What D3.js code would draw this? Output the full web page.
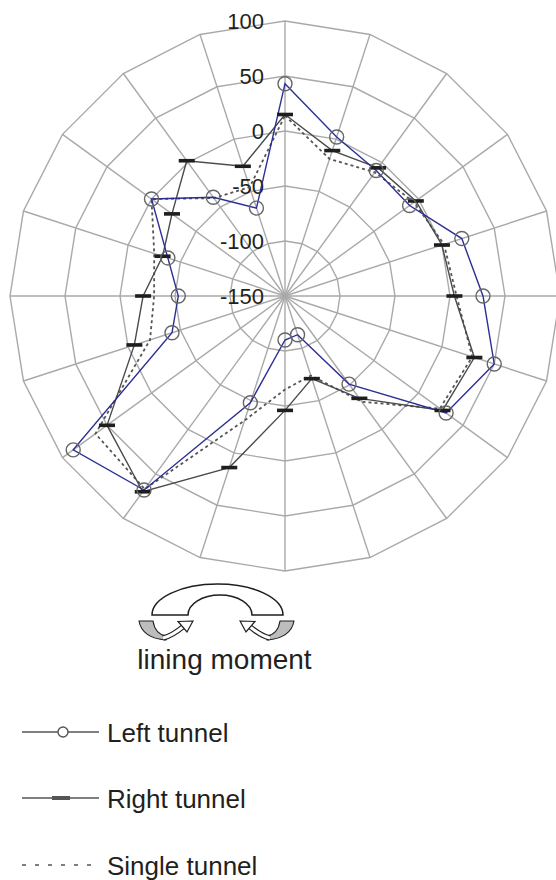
<!DOCTYPE html>
<html>
<head>
<meta charset="utf-8">
<script src="https://cdn.jsdelivr.net/npm/d3@7"></script>
<style>
  html, body { margin: 0; padding: 0; background: #fff; }
  svg { display: block; }
  text { font-family: "Liberation Sans", Arial, Helvetica, sans-serif; fill: #231f20; }
</style>
</head>
<body>
<svg id="chart" width="556" height="880"></svg>
<script>
// Spoke directions (degrees, clockwise from top)
const spokeAngles = [0, 18, 36, 54, 72, 90, 108, 126, 144, 162, 180, 198, 216, 234, 252, 270, 288, 306, 324, 342];

// Radial tick labels
const ringTicks = [100, 50, 0, -50, -100, -150];

// Lining moment per spoke
const leftTunnel   = [43, 2, -9, -10, 19, 30, 50, 31, -51, -113, -110, -48, 68, 88, -42, -53, -38, 0, -39, -66];
const rightTunnel  = [15, -11, -6, -3, 0, 4, 31, 27, -35, -71, -46, 14, 70, 50, -6, -21, -33, -23, 2, -26];
const singleTunnel = [14, -19, -11, -5, 2, 6, 29, 24, -31, -74, -65, -31, 67, 63, -21, -31, -25, 0, -40, -46];

const legendLabels = ["Left tunnel", "Right tunnel", "Single tunnel"];
const iconCaption = "lining moment";

const svg = d3.select("#chart");
const cx = 285, cy = 296, R = 275;

const rScale = d3.scaleLinear().domain([d3.min(ringTicks), d3.max(ringTicks)]).range([0, R]);
const aScale = d3.scaleLinear().domain([0, 360]).range([0, 2 * Math.PI]);

const plot = svg.append("g").attr("transform", `translate(${cx},${cy})`);

const radial = d3.lineRadial()
  .angle((d, i) => aScale(spokeAngles[i]))
  .radius(d => rScale(d))
  .curve(d3.curveLinearClosed);

// grid rings (polygonal)
const gridColor = "#a9a9a9";
plot.selectAll("path.ring")
  .data(ringTicks.filter(v => v > rScale.domain()[0]))
  .join("path")
  .attr("class", "ring")
  .attr("d", v => radial(spokeAngles.map(() => v)))
  .attr("fill", "none")
  .attr("stroke", gridColor)
  .attr("stroke-width", 1.4);

// spokes
plot.selectAll("line.spoke")
  .data(spokeAngles)
  .join("line")
  .attr("class", "spoke")
  .attr("x1", 0).attr("y1", 0)
  .attr("x2", d => rScale(100) * Math.sin(aScale(d)))
  .attr("y2", d => -rScale(100) * Math.cos(aScale(d)))
  .attr("stroke", gridColor)
  .attr("stroke-width", 1.4);

// ring labels
plot.selectAll("text.tick")
  .data(ringTicks)
  .join("text")
  .attr("class", "tick")
  .attr("x", -21)
  .attr("y", d => -rScale(d))
  .attr("dy", "0.36em")
  .attr("text-anchor", "end")
  .attr("font-size", 22)
  .text(d => d);

const px = (v, i) => rScale(v) * Math.sin(aScale(spokeAngles[i]));
const py = (v, i) => -rScale(v) * Math.cos(aScale(spokeAngles[i]));

// single tunnel: dashed
plot.append("path")
  .attr("d", radial(singleTunnel))
  .attr("fill", "none")
  .attr("stroke", "#555")
  .attr("stroke-width", 1.8)
  .attr("stroke-dasharray", "3,3");

// right tunnel
plot.append("path")
  .attr("d", radial(rightTunnel))
  .attr("fill", "none")
  .attr("stroke", "#4a4a4a")
  .attr("stroke-width", 1.4);

// left tunnel
plot.append("path")
  .attr("d", radial(leftTunnel))
  .attr("fill", "none")
  .attr("stroke", "#2b2f92")
  .attr("stroke-width", 1.4);

// right tunnel markers: short bars
plot.selectAll("rect.bar")
  .data(rightTunnel)
  .join("rect")
  .attr("class", "bar")
  .attr("x", (d, i) => px(d, i) - 8)
  .attr("y", (d, i) => py(d, i) - 1.8)
  .attr("width", 16)
  .attr("height", 3.6)
  .attr("fill", "#1e1e1e");

// left tunnel markers: open circles
plot.selectAll("circle.mark")
  .data(leftTunnel)
  .join("circle")
  .attr("class", "mark")
  .attr("cx", (d, i) => px(d, i))
  .attr("cy", (d, i) => py(d, i))
  .attr("r", 7)
  .attr("fill", "none")
  .attr("stroke", "#666")
  .attr("stroke-width", 1.4);

// ---- lining moment icon ----
const icon = svg.append("g");
// horseshoe band
icon.append("path")
  .attr("d", "M152,615 A65.5,31 0 0 1 283,615 L252,615 A32,20 0 0 0 188,615 Z")
  .attr("fill", "#fff")
  .attr("stroke", "#1e1e1e")
  .attr("stroke-width", 1.5);

function sideParts(g) {
  // lining segment (grey crescent)
  g.append("path")
    .attr("d", "M139,621 L153,621 Q155,634 166,636 L166,640 Q142,638 139,621 Z")
    .attr("fill", "#bdbdbd")
    .attr("stroke", "#1e1e1e")
    .attr("stroke-width", 1.1);
  // hollow curved arrow shaft
  const shaft = "M163,638 Q172,636 184,626";
  g.append("path").attr("d", shaft).attr("fill", "none")
    .attr("stroke", "#1e1e1e").attr("stroke-width", 5.5);
  g.append("path").attr("d", shaft).attr("fill", "none")
    .attr("stroke", "#fff").attr("stroke-width", 3);
  // arrow head
  g.append("path")
    .attr("d", "M193,621 L178,621.5 L187,632 Z")
    .attr("fill", "#fff")
    .attr("stroke", "#1e1e1e")
    .attr("stroke-width", 1.2)
    .attr("stroke-linejoin", "miter");
}
sideParts(icon.append("g"));
sideParts(icon.append("g").attr("transform", "translate(433,0) scale(-1,1)"));

svg.append("text")
  .attr("x", 224.5)
  .attr("y", 669)
  .attr("text-anchor", "middle")
  .attr("font-size", 28)
  .text(iconCaption);

// ---- legend ----
const legendY = [732, 798, 865];
const legend = svg.append("g");
legendLabels.forEach((label, k) => {
  const y = legendY[k];
  const g = legend.append("g");
  if (k === 0) {
    g.append("line").attr("x1", 22).attr("x2", 99).attr("y1", y).attr("y2", y)
      .attr("stroke", "#555").attr("stroke-width", 1.4);
    g.append("circle").attr("cx", 63).attr("cy", y).attr("r", 5)
      .attr("fill", "#fff").attr("stroke", "#555").attr("stroke-width", 1.4);
  } else if (k === 1) {
    g.append("line").attr("x1", 22).attr("x2", 99).attr("y1", y).attr("y2", y)
      .attr("stroke", "#555").attr("stroke-width", 1.4);
    g.append("rect").attr("x", 52).attr("y", y - 2).attr("width", 18).attr("height", 4)
      .attr("fill", "#555");
  } else {
    g.append("line").attr("x1", 22).attr("x2", 99).attr("y1", y).attr("y2", y)
      .attr("stroke", "#555").attr("stroke-width", 1.6)
      .attr("stroke-dasharray", "4,9");
  }
  g.append("text")
    .attr("x", 107)
    .attr("y", y + 10)
    .attr("font-size", 26)
    .text(label);
});
</script>
</body>
</html>
